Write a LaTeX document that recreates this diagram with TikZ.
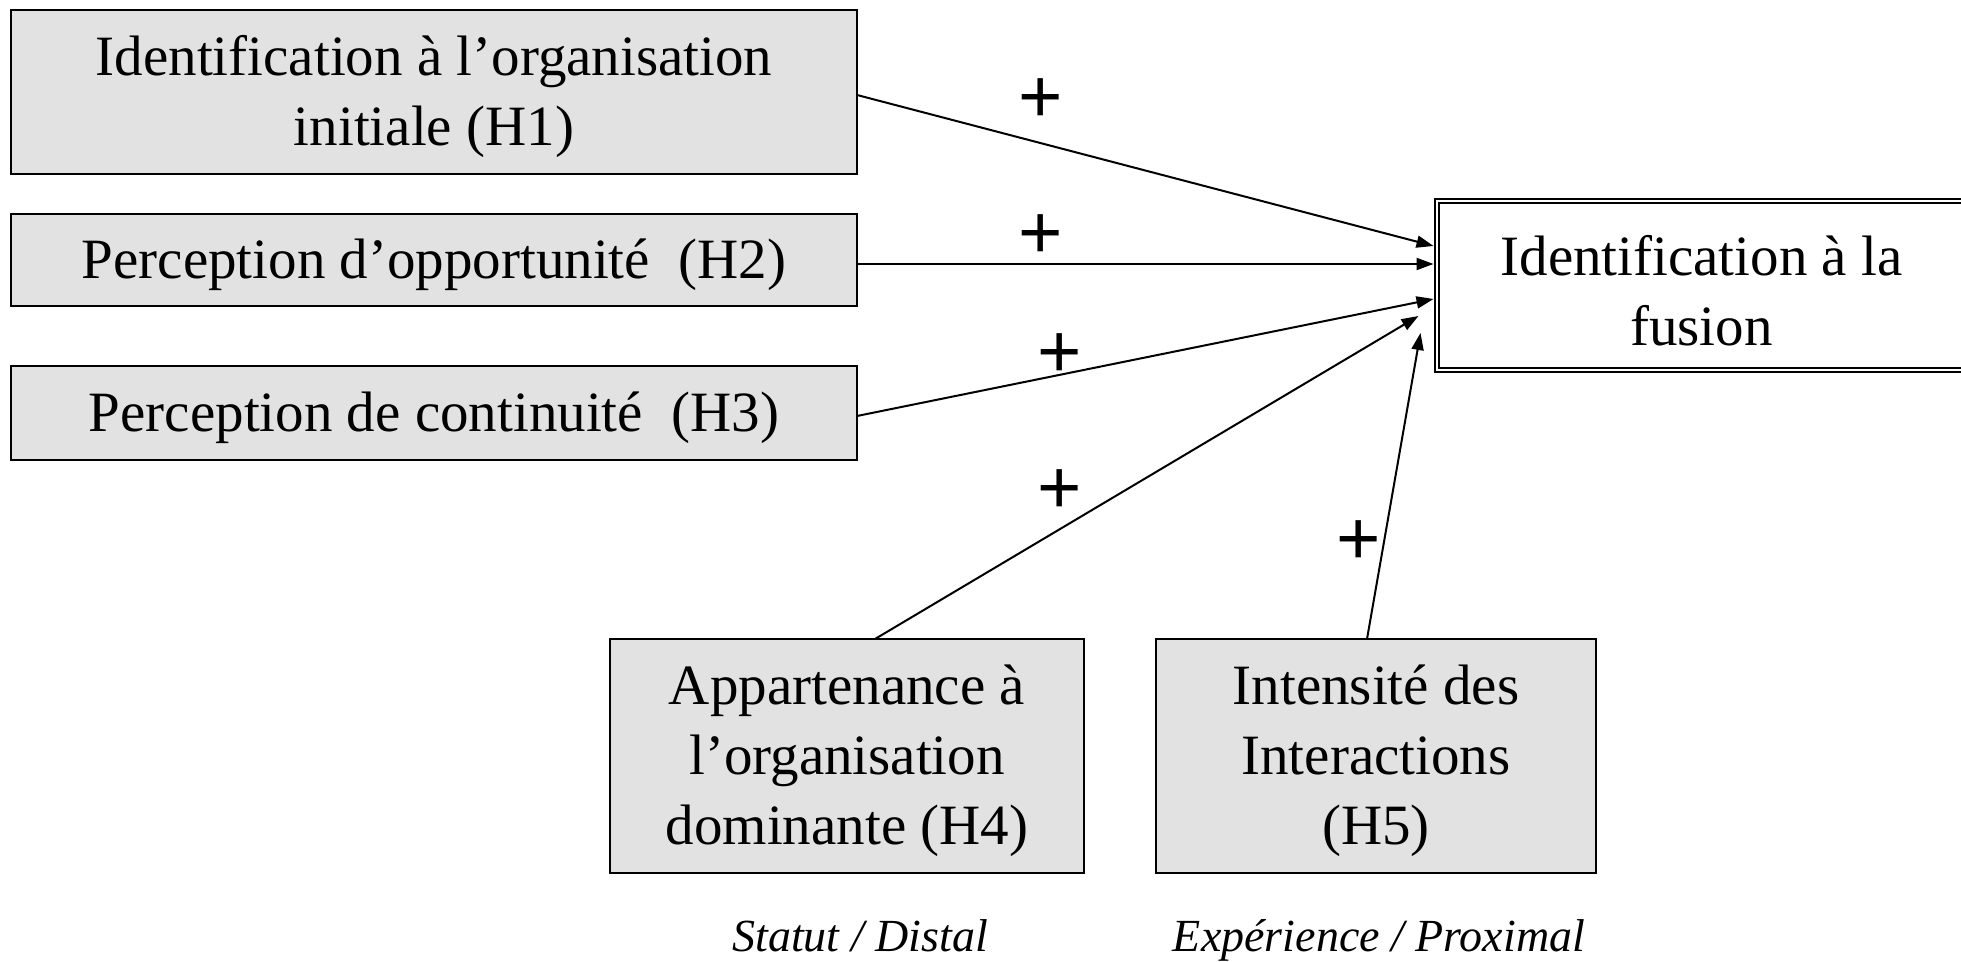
\documentclass[tikz,border=0pt]{standalone}
\usepackage{fontspec}
\setmainfont{Liberation Serif}
\newfontfamily\plusfont{Liberation Sans}
\usetikzlibrary{arrows.meta}
\definecolor{boxgray}{RGB}{226,226,226}
\begin{document}
\begin{tikzpicture}[x=1pt,y=1pt,
  boxtext/.style={font=\fontsize{57}{70}\selectfont, align=center, inner sep=0pt, yshift=-5pt},
  graybox/.style={draw, line width=2pt, fill=boxgray, inner sep=0pt, outer sep=0pt},
  target/.style={draw, line width=2pt, double, double distance=2.5pt, inner sep=0pt, outer sep=0pt},
  conn/.style={line width=2pt, -{Triangle[length=17pt,width=12pt]}},
  sign/.style={font=\plusfont\fontsize{76}{76}\selectfont, inner sep=0pt, anchor=base},
  note/.style={font=\itshape\fontsize{46}{50}\selectfont, inner sep=0pt, anchor=base}]
\useasboundingbox (0,0) rectangle (1961,961);
\fill[white] (0,0) rectangle (1961,961);

\node[graybox, minimum width=846, minimum height=164,
  label={[boxtext]center:Identification à l’organisation\\initiale (H1)}] (h1) at (434,869) {};
\node[graybox, minimum width=846, minimum height=92,
  label={[boxtext]center:Perception d’opportunité\ \ (H2)}] (h2) at (434,701) {};
\node[graybox, minimum width=846, minimum height=94,
  label={[boxtext]center:Perception de continuité\ \ (H3)}] (h3) at (434,548) {};
\node[graybox, minimum width=474, minimum height=234,
  label={[boxtext]center:Appartenance à\\l’organisation\\dominante (H4)}] (h4) at (847,205) {};
\node[graybox, minimum width=440, minimum height=234,
  label={[boxtext]center:Intensité des\\Interactions\\(H5)}] (h5) at (1376,205) {};
\node[target, minimum width=529, minimum height=169,
  label={[boxtext]center:Identification à la\\fusion}] (tgt) at (1701.5,675.5) {};

\draw[conn] ([yshift=-3]h1.east) -- ([shift={(-3.5,39.5)}]tgt.west);
\draw[conn] ([yshift=-4]h2.east) -- ([shift={(-3.5,21.5)}]tgt.west);
\draw[conn] ([yshift=-3]h3.east) -- ([shift={(-3.5,-13.5)}]tgt.west);
\draw[conn] ([xshift=28]h4.north) -- ([shift={(-18.5,-30.5)}]tgt.west);
\draw[conn] ([xshift=-9]h5.north) -- ([shift={(-16.5,-47.5)}]tgt.west);

\node[sign] (p1) at (1041,838.7) {+};
\node[sign] (p2) at (1041,702.7) {+};
\node[sign] (p3) at (1060,583.7) {+};
\node[sign] (p4) at (1060,447.7) {+};
\node[sign] (p5) at (1359,396.7) {+};

\node[note] (n1) at (860,10) {Statut / Distal};
\node[note] (n2) at (1379,10) {Expérience / Proximal};
\end{tikzpicture}
\end{document}
